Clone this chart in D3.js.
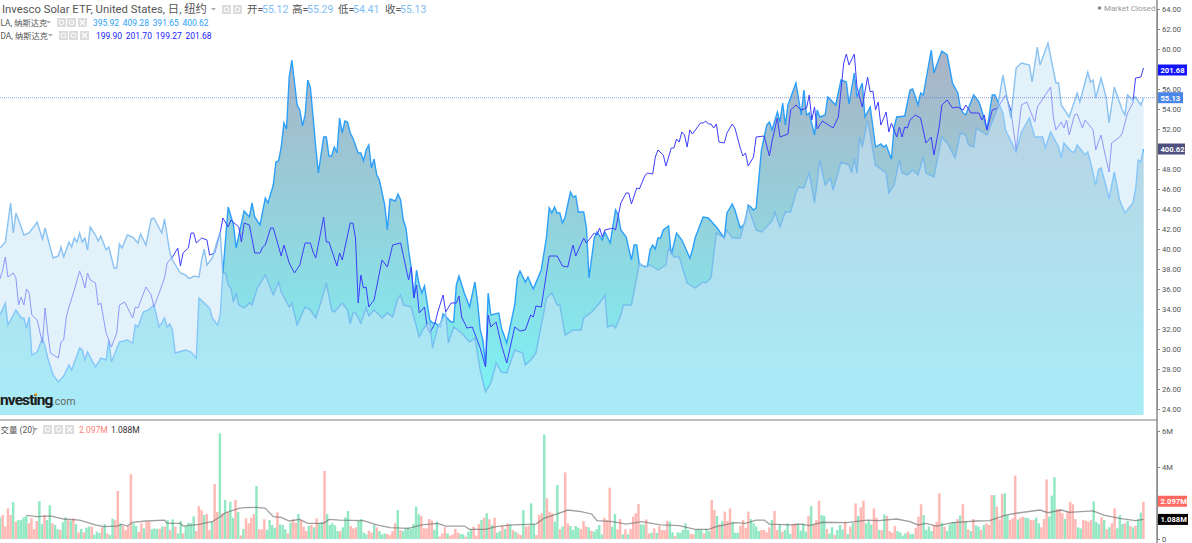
<!DOCTYPE html>
<html>
<head>
<meta charset="utf-8">
<script src="https://cdn.jsdelivr.net/npm/d3@7"></script>
<style>
  html, body { margin: 0; padding: 0; background: #fff; overflow: hidden; }
  svg { display: block; }
  text { font-family: Roboto, "Noto Sans CJK SC", sans-serif; }
  .axis text { font-size: 7.6px; fill: #555; }
  .axis line, .axis path { stroke: #8a8a8a; }
  .tag { font-size: 7.6px; font-weight: 700; fill: #fff; }
</style>
</head>
<body>
<svg id="chart" width="1192" height="543"></svg>
<script>
// all three price series are read in the units of the visible right axis: [session, value]
const tanSeries = [[0,40.1],[2,40.7],[4,44.6],[5,41.6],[6,43.6],[8,42.2],[9,41.4],[11,41.6],[14,42.7],[16,41],[17,42.1],[20,39.1],[22,39.3],[23,40.2],[24,39.2],[26,40.7],[27,40.2],[28,41.1],[29,40.7],[30,41.6],[31,40.7],[32,41.1],[33,39.9],[34,42.2],[36,41.4],[37,40.8],[38,41.3],[40,39.9],[41,40.2],[43,38.1],[44,38.1],[45,40.5],[46,40.1],[48,41.4],[50,41.2],[52,40.6],[53,41.5],[55,40.4],[57,43],[58,43.1],[61,41.6],[62,43],[64,39.7],[65,38.9],[68,37.6],[70,37.4],[71,37.1],[72,37.1],[73,37.3],[75,37.2],[76,38.9],[77,40],[78,38.4],[80,39.1],[82,40.9],[83,41.7],[84,37.6],[85,37.6],[86,36.4],[87,36.1],[88,34.7],[89,35.6],[90,34.4],[92,34.1],[94,34.6],[95,34.4],[97,36.1],[100,37.4],[103,35.4],[105,36.7],[106,35.7],[107,35.2],[109,34.2],[110,34.6],[112,32.4],[115,34.2],[117,33.9],[119,33.1],[121,34.7],[123,36.6],[125,33.9],[126,33.7],[129,34.6],[131,33.9],[132,32.5],[133,33.6],[134,33.6],[136,32.6],[138,34.1],[139,33.3],[141,33.9],[143,33.4],[144,33.1],[146,33.6],[148,33.2],[150,35.1],
  [151,35.4],[152,34.4],[155,34.2],[158,31.2],[160,32.2],[162,32.7],[163,30.1],[165,32.2],[168,33.6],[169,30.6],[171,32.2],[174,31.6],[177,30.7],[179,31.1],[181,27.9],[183,25.7],[185,26.6],[187,28.6],[189,27.7],[191,27.6],[194,29.9],[197,29.6],[198,28.4],[200,28.9],[202,29.6],[206,35.1],[208,35.6],[210,34.4],[211,34.4],[213,31.4],[216,31.9],[219,31.9],[220,33.1],[223,33.7],[226,34.6],[228,35.4],[229,32.2],[231,32.4],[232,32.1],[234,33.4],[235,34.4],[238,34.4],[241,38.6],[243,38.2],[245,38.4],[248,37.9],[251,38.4],[252,40.1],[254,39.2],[256,39.2],[259,36.6],[262,36.1],[265,36.7],[266,36.6],[268,37.1],[270,41.6],[273,41.1],[274,41.9],[276,41.1],[279,41.1],[282,44.2],
  [285,41.9],[287,41.7],[291,42.8],[292,43.7],[294,42.2],[296,43.7],[298,43.7],[300,45.6],[301,46.2],[303,46.1],[305,47.6],[307,44.6],[309,48.9],[311,46.4],[313,47.1],[314,45.9],[317,48.7],[320,48.4],[321,47.6],[322,49.1],[323,47.6],[324,51.2],[325,50.2],[327,52.9],[330,48.4],[334,47.6],[335,45.6],[337,46.4],[339,48.9],[340,47.6],[342,47.4],[344,47.9],[346,47.4],[348,49.2],[349,47.6],[352,47.2],[355,51.2],[357,50.6],[360,49.1],[362,51.6],[364,51.4],[365,50.4],[367,50.2],[368,52.1],[369,51.9],[372,51.4],[376,54.1],[378,57.4],[381,53.1],[383,58.1],[385,58.6],[388,58.4],[389,56.7],[391,60.2],[392,58.4],[395,60.6],[398,56.6],[399,56.6],[400,54.4],[403,53.2],[406,55.6],[407,54.7],[410,57.7],[411,56.7],[412,56.9],[413,55.1],[415,57.1],[417,55.1],[418,52.6],[420,56.2],[423,53.9],[424,53.4],[425,55.4],[427,54.9],[428,55.2],[430,54.4],[431,55.1]];

const tslaSeries = [[0,33.4],[2,34.6],[3,32.4],[6,33.9],[8,33.1],[9,33.1],[10,32.1],[11,33.2],[12,29.4],[14,29.7],[16,31.1],[17,30.2],[18,29.1],[20,27.4],[22,26.7],[24,27.3],[26,28.4],[27,27.9],[30,30.1],[31,29.9],[32,28.9],[33,29.7],[36,28.2],[38,29.1],[40,28.9],[41,30.9],[42,28.7],[45,30.7],[48,30.9],[50,30.6],[51,32.4],[52,32.2],[54,33.7],[56,33.9],[58,34.4],[60,32.2],[62,33.1],[63,32.2],[64,32.5],[65,31.9],[66,29.6],[70,29.9],[72,29.7],[74,29.1],[75,35.1],[77,34.6],[79,34.1],[80,33.1],[82,32.4],[83,33.4],[84,37.6],[86,44.2],[88,42.4],[89,40.1],[92,43.8],[94,43.2],[95,44.6],[96,43.2],[98,42.4],[100,45.1],[101,44.6],
  [103,46.4],[104,48.7],[105,48.8],[106,50.2],[107,52.6],[108,52],[109,57.2],[110,58.9],[112,54.4],[113,53.9],[114,52.3],[115,53.4],[116,56.9],[117,56.1],[118,53.2],[119,50.2],[120,47.6],[122,51.2],[123,51.2],[124,49.3],[125,49.3],[126,50.2],[127,49.6],[128,53.1],[129,51.6],[130,52.8],[131,52.7],[132,51.6],[133,51.1],[135,49.6],[136,49.6],[137,48.8],[138,49.9],[139,50.4],[140,48.1],[141,49],[142,47.4],[143,46.9],[145,44.4],[146,41.9],[147,45],[149,44.8],[150,45.5],[151,44.9],[152,42.9],[153,42.1],[154,39.9],
  [155,38.1],[156,35.1],[157,37.9],[158,36.4],[159,35.6],[160,36.3],[161,34.6],[162,32.9],[163,32.6],[164,32.6],[166,32.2],[167,33.5],[170,32.7],[171,32.7],[172,36.4],[173,37.3],[175,35.6],[177,34.2],[179,36.7],[180,34.7],[181,31.9],[182,30.9],[183,28.4],[184,35.6],[185,33.4],[188,33.6],[189,32.1],[191,30.6],[194,34.4],[195,37.1],[196,37.8],[198,36.7],[199,37.2],[201,36],[204,37.9],[206,41.2],[207,44.1],[208,43.6],[209,44.2],[210,43.6],[211,43.6],[212,42.6],[213,43.2],[215,45.7],[216,45.2],[217,45.3],[218,43.7],[220,43.7],[221,42.2],[222,37.1],[224,41.1],[225,41.7],[227,40.9],[228,41.7],[230,40.6],[232,43.9],[233,43.4],[234,41.9],[236,41.2],[238,38.9],[239,40.4],[240,40.4],[241,38.4],[244,38.2],[245,39.9],[246,40.4],[247,40],[248,41.1],[249,41.1],[250,41.9],[252,42.3],[253,39.4],[255,41.6],[257,40.9],[260,39.1],[261,39.9],[262,41.1],[265,43.2],[267,43.1],[270,42.2],[273,41.1],[274,43.6],[276,44.5],[277,43.9],[279,42.1],[281,42.6],[282,44.4],
  [283,44.2],[284,43.9],[285,44.1],[287,49.9],[289,52.4],[290,52.7],[291,51.9],[293,53.7],[294,52.7],[295,54.6],[296,52.4],[297,54.4],[300,56.6],[302,53.4],[303,55.9],[304,53.4],[305,53.6],[307,51.4],[308,53.9],[309,53.2],[311,53.4],[312,55.2],[315,54.4],[317,56.9],[319,56.7],[320,54.5],[322,57.6],[323,55.2],[325,56.6],[326,53.2],[328,54.2],[330,50.2],[332,50.5],[333,50.2],[334,50.4],[336,49],[337,52.2],[338,53.2],[341,53.3],[343,55.9],[344,56],[346,54.4],[347,55.6],[348,55.4],[351,59.9],[352,57.6],[354,59.1],[355,59.8],[357,59.4],[359,56.6],[361,55.6],[362,54.1],[363,53.6],[364,53.4],[367,55.4],[369,54.7],[370,53.9],[372,51.9],[374,55.4],[375,55.4],[378,53.6],[379,51.9],[383,49.7],[385,51.7],[388,53.1],[390,51.2],[393,51.2],[394,50.1],[396,51.7],[399,50.2],[400,49.1],[401,50.6],[404,49.7],[405,49.7],[406,50.4],[409,49.4],[410,49.7],[411,48.7],[413,46.4],[414,47.9],[415,48.1],[417,46.2],[418,45],[420,47.7],[422,44.9],[424,43.6],[427,44.6],[428,45.9],[429,48.9],[430,48.7],[431,50]];

const nvdaSeries = [[0,37],[1,37.9],[2,39.2],[3,37.2],[5,37.6],[6,37.1],[7,34.4],[8,35.2],[9,34.4],[10,36],[11,35.6],[12,33.4],[14,32.9],[16,30.6],[17,34.1],[18,31.6],[19,29.6],[22,29.1],[23,30.7],[24,30.9],[25,33.2],[26,34.2],[28,35.9],[30,37.8],[31,37.1],[32,36.1],[33,37.6],[34,36.9],[36,36.6],[37,34.4],[38,34.6],[40,31.6],[42,30.2],[44,31.6],[45,34.4],[47,34.7],[50,33.1],[51,34.2],[52,34.1],[55,36.2],[57,35.4],[58,34.2],[60,35.6],[62,37.1],[63,38.6],[65,39.2],[67,40.1],[68,38.3],[69,39.6],[71,40.1],[72,41.6],[73,41.6],[74,40.6],[76,41.1],[78,40.9],[79,39.4],[81,39.6],[83,41.6],[84,43.1],[86,42.2],[87,42.9],[90,42.2],[91,40.7],[92,42.6],[94,42.4],[96,39.6],[98,39.6],[99,40.2],[100,40.4],[102,42.1],[103,42.1],[106,39.3],[107,40.4],[109,38.6],[111,37.6],[113,38.4],[115,40.6],[117,40.6],[118,39.7],[119,39.1],[122,43.2],[123,40.7],[124,40.7],[127,38.3],[128,39.6],[129,38.9],[132,42.6],[133,42.6],[134,41.1],[135,34.6],[136,37.4],[137,36.1],[138,36.2],[139,34.2],[141,34.9],[143,37.6],[144,38.9],[146,38.2],[148,40.4],[151,40.6],
  [154,36.9],[155,38.2],[156,35.1],[157,36.4],[158,33.6],[160,34.2],[161,32.2],[162,31.6],[164,32.6],[165,33.7],[167,35.4],[168,33.7],[170,34.6],[172,34.6],[173,35.3],[174,33.2],[176,32.1],[178,32.2],[181,30.1],[183,28.2],[184,33.4],[185,32.2],[187,32.7],[189,30.4],[191,28.6],[194,32.2],[196,31.8],[198,31.9],[200,33.4],[201,33.2],[202,34.3],[204,34.2],[207,39.3],[210,39.3],[212,38.3],[214,38.2],[215,39.4],[216,40.4],[217,39.3],[220,41.1],[221,40.6],[224,41.6],[225,41.4],[226,42.1],[227,41.2],[228,41.9],[231,42.1],[232,41.9],[234,44.6],[236,45.6],[237,45.6],[238,44.5],[240,46.1],
  [241,46],[243,47.3],[244,47.6],[246,47.5],[247,49.2],[248,49.9],[250,49.4],[251,48.3],[253,50.1],[254,50.1],[255,51],[256,50.7],[257,51.7],[258,51.4],[259,50.2],[260,51.9],[261,51.5],[264,52.6],[265,52.6],[266,52.8],[267,52.5],[268,52.5],[269,52.1],[270,52.5],[271,50.7],[273,50.6],[274,51.6],[276,52.5],[277,52.1],[279,50.1],[280,49.3],[281,49.6],[282,48.3],[284,49.2],[285,51.2],[288,51.3],[290,49.3],[291,50.8],[293,53.1],
  [294,51.2],[297,51.5],[298,53.9],[300,54.4],[302,53.9],[304,54.1],[305,55.4],[306,52.9],[307,54.2],[308,52],[310,52.8],[314,52.1],[316,53.2],[318,58.6],[319,59.5],[320,58.4],[322,59.5],[323,56.2],[325,54.2],[327,57.2],[328,55.7],[329,55.8],[330,53.9],[331,54.7],[332,52.4],[334,53.7],[335,51.7],[336,52.6],[338,51.2],[339,52.2],[340,51.2],[341,52.2],[342,52.1],[343,52.9],[345,53.4],[347,53.1],[349,50.6],[351,51.2],[352,49.4],[354,52.2],[355,54.4],[357,54.9],[359,54.1],[361,54.2],[363,53.9],[364,54.4],[366,53.6],[369,53.6],[370,52.9],[371,53.4],[372,51.9],[374,53.9],[376,54.1],[379,55.4],[381,53.9],[383,49.9],[385,54.4],[387,54.7],[390,52.7],[391,54.2],[396,56.2],[397,53.2],[398,51.9],[400,52.7],[401,52.1],[402,52.9],[403,51.4],[405,53.4],[406,53.5],[408,52.1],[409,52.9],[412,51.9],[413,49.9],[414,50.7],[415,51.4],[416,50.1],[418,47.7],[419,50.6],[422,51.2],[423,51.6],[425,53.6],[427,54.6],[428,57.1],[430,57.2],[431,58.1]];

// volume in millions, sign = bar colour (+ green, - red)
const volume = [1.2,-1.33,-.7,-1.7,-1.33,2.05,-.96,1.05,1.05,1.2,1.28,-.87,-1.15,-.54,-1,2.1,.83,-1.33,1.05,1.87,-.87,.78,.54,-.5,.93,1.2,-1.05,1.02,-1.15,.83,-.37,.56,-.37,.63,.69,-.69,.24,.41,.33,-.65,.83,-.31,.22,
  1.13,-1.05,-2.67,.87,-.72,-.5,-.72,-3.6,.87,.72,-.39,-.87,.59,-.96,-.96,.54,.59,.56,-.56,.69,-.69,1.05,-.5,1.09,-.69,.31,1,-.31,.72,.9,.87,1.26,-.44,-1.83,-1.6,1.33,-1.39,-.5,.96,-3.05,-1.5,5.87,-1.43,2.17,-1.5,2.07,1.18,-2.17,1.5,-.2,.56,-1.15,-.87,-1.18,-1.39,2.94,-.54,-.54,-1.1,.5,1.05,.78,.63,-1.48,.81,.78,.54,-.31,.9,-1.09,-.9,1.39,
  -1.05,-.69,-.44,.72,-.78,.65,-1.15,.87,.95,-3.78,1.39,.78,.87,.76,.44,-.44,.65,1.2,1.55,-.72,-.59,-.65,1,1.11,.35,.26,-.46,-.35,.78,-.65,.44,.26,.31,-.28,-.22,-.44,-.87,1.61,-.5,.44,.59,.65,.56,.83,1.8,1.37,-1.28,-.59,-.59,-1.11,-1.02,.5,.96,-.13,-.31,-.65,.31,-.19,-.26,-.56,-.35,.28,.26,-.13,.41,.54,-.69,-.19,-.83,1.05,-1.18,1.43,-1.09,.78,-1.18,.35,.44,-.74,.56,-.87,.81,-.5,.41,-.31,-.22,1.61,-.69,-.74,1.98,.87,-.22,-1.33,-1.43,5.81,-2.26,-1.52,-1.43,.96,3,-.54,.69,-3.7,-.87,.72,.5,.72,.63,-.54,-1,-.69,.65,-.46,.41,.54,.78,.26,-1.18,-1.05,-2.85,.69,1.39,-.54,-1.11,.26,-.54,.26,-.56,-1.24,-1.43,-1.94,.81,.81,-1.09,-.31,.35,-.59,.35,-.72,-.5,-.5,-1,.96,.37,-.17,.37,.35,.5,.87,.5,-.28,-.26,.5,
  .56,.5,-.31,.56,.44,-2.17,-1.61,1.28,-.83,1,-1.52,-1,-1.7,.96,.35,.35,-.74,-1.05,-.63,-1.52,1.11,.87,.69,.44,-.5,-.5,-.37,-.65,1.05,-1.56,-.5,.81,-.41,.5,.87,.28,-.83,-.87,.87,.46,.87,.41,-1.28,1.83,-.78,-1.05,-2.13,1.33,1.28,-.56,.31,.65,-.22,.5,.78,.54,-.96,.28,-.69,.9,-1.98,1.28,-1.76,-2.13,.87,1,.81,-1.7,-1.18,.5,-.5,1.37,-1.28,-.44,-.35,-.72,.44,.37,.19,.31,-.41,.28,.28,-.63,-1.24,-1.93,1.33,.5,.69,.44,-.78,-.96,-2.54,.9,-.69,.44,.81,.93,.94,-1.11,1.31,-1.93,1,-.54,.44,-1.11,.76,.69,-.5,.78,-.87,-.78,-2.44,2.44,-1.8,-1.09,-2.5,2.54,1.33,-1.05,-1.15,-3.52,1.09,-1.19,-1.24,1.19,1.15,-1.05,-1.05,1.19,.87,-.65,-1.11,-3.31,1.24,2.41,3.43,-1.65,-1.65,-1.43,1.11,-1.56,-2.07,-1.93,-1.11,.65,.59,-1.05,-1.02,-.96,-1.05,2.09,.94,
  .83,-1.2,1.06,-.54,.65,-.87,-1.7,.59,1.33,.83,-.87,1,-.72,.65,-.74,1.09,1.46,-2.07];

// 20 session average of the volume: [session, millions]
const volumeMa = [[10,1.31],[14,1.24],[19,1.28],[24,1.11],[30,1.05],[36,.78],[39,.69],[44,.72],[46,.81],[48,.72],[50,.93],[55,1],[62,1.05],[63,.87],[68,.87],[69,.72],[75,.81],[80,.96],[83,1.24],[85,1.46],[90,1.7],[92,1.74],[97,1.76],[100,1.7],[103,1.24],[106,1.2],[109,1],[113,1.09],[116,.87],[122,.87],[124,1.09],[128,1.05],[137,1.02],[142,.78],[147,.63],[154,.59],[159,.78],[165,.87],[168,.72],[175,.72],[177,.54],[183,.54],[187,.69],[193,.78],[202,.83],[205,1.15],[210,1.39],[214,1.61],[219,1.52],[223,1.39],[225,1.02],[231,.96],[236,.83],[242,.96],[249,.78],[256,.74],[262,.54],[267,.54],[270,.69],[277,.91],[281,.87],[285,1.05],[288,1.05],[290,.83],[298,.78],[302,.83],[305,.74],[310,.93],[319,.91],[327,1.05],[331,1.02],[338,1.11],[343,.96],[346,.78],[349,.87],[353,.72],[359,.91],[368,1],[373,1.02],[379,1.33],[383,1.43],[392,1.61],[395,1.46],[400,1.61],[403,1.48],[412,1.56],[416,1.33],[422,1.15],[428,1.02],[431,1.09]];

const priceTicks = [24,26,28,30,32,34,36,38,40,42,44,46,48,52,54,56,60,62,64];
const volumeTicks = [0,4,6];
const lastClose = 55.13, lastVolume = 2.097, lastVolumeMa = 1.088;

const sessions = 431;
const W = 1192, H = 543;
const axisX = 1157, chartRight = 1143.5;

const svg = d3.select("#chart");

const x = d3.scaleLinear().domain([0, sessions]).range([0, chartRight]);
const xBar = d3.scaleBand().domain(d3.range(volume.length)).range([-1.3, chartRight + 1.3]).padding(0.06);
const y = d3.scaleLinear().domain([24, 64]).range([409, 9]);
const yVol = d3.scaleLinear().domain([0, 6]).range([539, 431]);
const areaBase = 415;

// fill of the TSLA area runs grey-blue at the top to cyan at the bottom
const defs = svg.append("defs");
const grad = defs.append("linearGradient")
  .attr("id", "tslaFill")
  .attr("gradientUnits", "userSpaceOnUse")
  .attr("x1", 0).attr("x2", 0).attr("y1", 60).attr("y2", 390);
grad.append("stop").attr("offset", 0).attr("stop-color", "#a9b4c6");
grad.append("stop").attr("offset", 1).attr("stop-color", "#7df1f4");

const line = d3.line().x(d => x(d[0])).y(d => y(d[1]));
const area = d3.area().x(d => x(d[0])).y0(areaBase).y1(d => y(d[1]));

// order matters: the TAN area sits over the other two and washes them out
svg.append("path").datum(tslaSeries).attr("d", area).attr("fill", "url(#tslaFill)");
svg.append("path").datum(tslaSeries).attr("d", line)
  .attr("fill", "none").attr("stroke", "#2c9ffa").attr("stroke-width", 1.4);
svg.append("path").datum(nvdaSeries).attr("d", line)
  .attr("fill", "none").attr("stroke", "#3d3dfb").attr("stroke-width", 1);
svg.append("path").datum(tanSeries).attr("d", area)
  .attr("fill", "#cce5f7").attr("fill-opacity", 0.55);
svg.append("path").datum(tanSeries).attr("d", line)
  .attr("fill", "none").attr("stroke", "#6fb4ee").attr("stroke-width", 1.4).attr("stroke-opacity", 0.8);

// last price line
svg.append("line")
  .attr("x1", 0).attr("x2", axisX)
  .attr("y1", y(lastClose)).attr("y2", y(lastClose))
  .attr("stroke", "#4a6fe0").attr("stroke-opacity", 0.65)
  .attr("stroke-dasharray", "1 1");

// volume pane
svg.append("g").selectAll("rect")
  .data(volume)
  .enter().append("rect")
    .attr("x", (d, i) => xBar(i))
    .attr("width", xBar.bandwidth())
    .attr("y", d => yVol(Math.abs(d)))
    .attr("height", d => yVol(0) - yVol(Math.abs(d)))
    .attr("fill", d => d > 0 ? "#93e8c4" : "#ffb9b5");

svg.append("path").datum(volumeMa)
  .attr("d", d3.line().x(d => x(d[0])).y(d => yVol(d[1])))
  .attr("fill", "none").attr("stroke", "#6b6b6b").attr("stroke-opacity", 0.65).attr("stroke-width", 1.3);

// pane separator and axes
svg.append("line").attr("x1", 0).attr("x2", axisX).attr("y1", 420).attr("y2", 420)
  .attr("stroke", "#a8a8a8").attr("stroke-width", 1.5);

svg.append("g").attr("class", "axis")
  .attr("transform", "translate(" + axisX + ",0)")
  .call(d3.axisRight(y).tickValues(priceTicks).tickSize(3).tickPadding(2).tickFormat(d3.format(".2f")));
svg.append("g").attr("class", "axis")
  .attr("transform", "translate(" + axisX + ",0)")
  .call(d3.axisRight(yVol).tickValues(volumeTicks).tickSize(3).tickPadding(2).tickFormat(d => d ? d + "M" : "0"));
svg.append("line").attr("x1", axisX).attr("x2", axisX).attr("y1", 0).attr("y2", H)
  .attr("stroke", "#8a8a8a").attr("stroke-width", 1.5);

// value tags on the axis
const tags = [
  {text: "201.68", cy: y(57.9), w: 29, fill: "#1414ff"},
  {text: "55.13", cy: y(lastClose), w: 25, fill: "#4a86e8"},
  {text: "400.62", cy: y(50), w: 27, fill: "#50507e"},
  {text: "2.097M", cy: yVol(lastVolume), w: 29, fill: "#ff6a60"},
  {text: "1.088M", cy: yVol(lastVolumeMa), w: 30, fill: "#000"}
];
const tag = svg.append("g").selectAll("g").data(tags).enter().append("g");
tag.append("rect")
  .attr("x", axisX + 1).attr("y", d => d.cy - 5.5)
  .attr("width", d => d.w).attr("height", 11)
  .attr("fill", d => d.fill);
tag.append("text").attr("class", "tag")
  .attr("x", axisX + 3.5).attr("y", d => d.cy + 3)
  .text(d => d.text);

// legend rows
function label(x0, y0, str, size, color, weight) {
  return svg.append("text").attr("x", x0).attr("y", y0)
    .attr("font-size", size).attr("fill", color)
    .attr("font-weight", weight || 400).text(str);
}
function caret(x0, y0) {
  svg.append("path").attr("d", d3.line()([[x0, y0], [x0 + 5, y0], [x0 + 2.5, y0 + 2.5]])).attr("fill", "#aaa");
}
function icon(x0, y0, sym) {
  svg.append("rect").attr("x", x0).attr("y", y0).attr("width", 9).attr("height", 9).attr("fill", "#dcdcdc");
  if (sym === "x") {
    svg.append("path").attr("d", "M" + (x0 + 2) + "," + (y0 + 2) + "l5,5m0,-5l-5,5").attr("stroke", "#fff").attr("stroke-width", 1.1);
  } else {
    svg.append("circle").attr("cx", x0 + 4.5).attr("cy", y0 + 4.5).attr("r", 2.3)
      .attr("fill", "none").attr("stroke", "#fff").attr("stroke-width", 1);
  }
}

label(2, 13, "Invesco Solar ETF, United States, 日, 纽约", 11.3, "#555");
caret(211, 8);
icon(222, 5, "o"); icon(233, 5, "o");
[["开=", 247, "55.12"], ["高=", 292, "55.29"], ["低=", 338, "54.41"], ["收=", 385, "55.13"]].forEach(function(o) {
  label(o[1], 13, o[0], 10.5, "#555");
  label(o[1] + 15, 13, o[2], 10.5, "#7fbdf3");
});

label(0.5, 26, "LA, 纳斯达克", 8.3, "#555");
caret(46, 21);
icon(57, 18, "o"); icon(67, 18, "o"); icon(78, 18, "x");
["395.92", "409.28", "391.65", "400.62"].forEach((s, i) => label(93 + i * 29.8, 26, s, 8.5, "#2c9ffa"));

label(0.5, 39, "DA, 纳斯达克", 8.3, "#555");
caret(48, 34);
icon(59, 31, "o"); icon(69, 31, "o"); icon(80, 31, "x");
["199.90", "201.70", "199.27", "201.68"].forEach((s, i) => label(96 + i * 29.8, 39, s, 8.5, "#2222ff"));

label(0.5, 433, "交量 (20)", 8.5, "#555");
caret(33, 428);
icon(43, 425, "o"); icon(54, 425, "o"); icon(65, 425, "x");
label(79, 433, "2.097M", 8.5, "#ff7f78");
label(111, 433, "1.088M", 8.5, "#333");

// market status
svg.append("circle").attr("cx", 1099.5).attr("cy", 8).attr("r", 1.8).attr("fill", "#888");
label(1104, 11, "Market Closed", 8, "#999");

// logo
label(0, 405, "nvesting", 15.5, "#1c1c1c", 700).attr("letter-spacing", -0.9);
svg.append("circle").attr("cx", 36).attr("cy", 394.5).attr("r", 1.2).attr("fill", "#f7931e");
label(52, 405, ".com", 10.5, "#666");
</script>
</body>
</html>
